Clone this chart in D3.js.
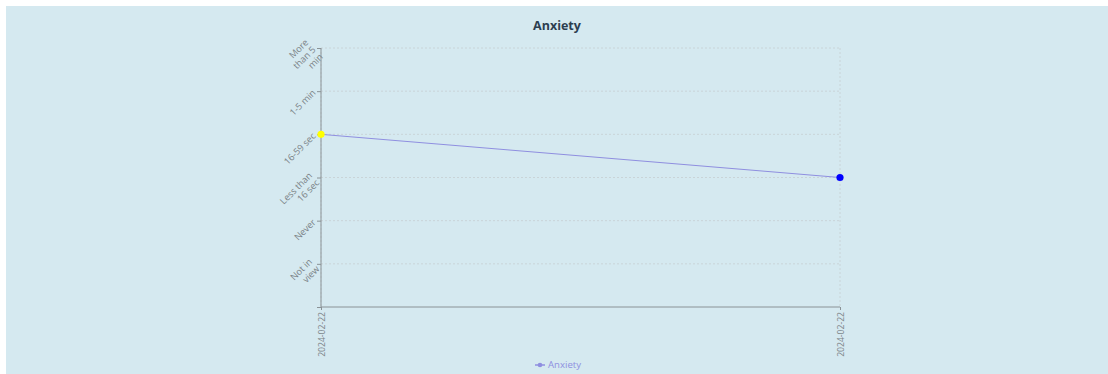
<!DOCTYPE html>
<html>
<head>
<meta charset="utf-8">
<script src="https://cdn.jsdelivr.net/npm/d3@7"></script>
<style>
  html, body { margin: 0; padding: 0; background: #ffffff; }
  body { font-family: "Open Sans", "Noto Sans", sans-serif; }
  svg { display: block; }
</style>
</head>
<body>
<svg id="chart" width="1108" height="374"></svg>
<script>
// Dates of the two check-ins (both on the same day)
const dates = ["2024-02-22", "2024-02-22"];
// Anxiety level per check-in, as an index into levelLabels
const anxiety = [4, 3];
// Marker colour for each check-in
const pointColors = ["#ffff00", "#0000ff"];
// Y-axis level labels, from 0 upwards
const levelLabels = ["", "Not in view", "Never", "Less than 16 sec", "16-59 sec", "1-5 min", "More than 5 min"];
const levelTicks = [0, 1, 2, 3, 4, 5, 6];
const seriesName = "Anxiety";
const chartTitle = "Anxiety";

const W = 1108, H = 374;
const svg = d3.select("#chart");

// panel background
svg.append("rect")
  .attr("x", 6).attr("y", 6)
  .attr("width", W - 6).attr("height", H - 6)
  .attr("fill", "#d5e9f0");

const plot = { left: 321, right: 840, top: 48, bottom: 307 };

const x = d3.scalePoint()
  .domain(d3.range(dates.length))
  .range([plot.left, plot.right]);

const y = d3.scaleLinear()
  .domain([0, 6])
  .range([plot.bottom, plot.top]);

// title
svg.append("text")
  .attr("x", 557).attr("y", 30)
  .attr("text-anchor", "middle")
  .attr("font-size", 12.5)
  .attr("font-weight", 700)
  .attr("fill", "#2c3e50")
  .text(chartTitle);

// grid
const grid = svg.append("g").attr("stroke", "#c9d4d8").attr("stroke-dasharray", "2 2").attr("fill", "none");
levelTicks.filter(t => t > 0).forEach(t => {
  grid.append("line")
    .attr("x1", plot.left).attr("x2", plot.right)
    .attr("y1", y(t)).attr("y2", y(t));
});
x.domain().forEach(i => {
  grid.append("line")
    .attr("x1", x(i)).attr("x2", x(i))
    .attr("y1", plot.top).attr("y2", plot.bottom);
});

const axisColor = "#8a9296";
const tickColor = "#7b8387";
const tickFont = 9.2;

// y axis
const yAxis = svg.append("g")
  .attr("transform", `translate(${plot.left},0)`)
  .call(d3.axisLeft(y).tickValues(levelTicks).tickSize(4).tickPadding(4).tickFormat(() => ""));
yAxis.select(".domain").attr("stroke", axisColor).attr("d", `M0,${plot.top}V${plot.bottom}`);
yAxis.selectAll(".tick line").attr("stroke", axisColor);
yAxis.selectAll(".tick text").remove();

// wrapped, rotated y tick labels
const labelX = plot.left - 7;
const maxWidth = 42;
const lineH = tickFont * 1.12;
levelTicks.forEach(t => {
  const label = levelLabels[t];
  if (!label) return;
  const g = svg.append("g")
    .attr("transform", `rotate(-45,${labelX},${y(t)})`);
  const txt = g.append("text")
    .attr("x", labelX).attr("y", y(t))
    .attr("text-anchor", "end")
    .attr("font-size", tickFont)
    .attr("fill", tickColor);
  // greedy word wrap
  const words = label.split(" ");
  const lines = [];
  let cur = "";
  const probe = txt.append("tspan");
  words.forEach(w => {
    const test = cur ? cur + " " + w : w;
    probe.text(test);
    if (cur && probe.node().getComputedTextLength() > maxWidth) {
      lines.push(cur);
      cur = w;
    } else {
      cur = test;
    }
  });
  lines.push(cur);
  probe.remove();
  const startDy = -(lines.length - 1) / 2 * lineH + tickFont * 0.355;
  lines.forEach((ln, k) => {
    txt.append("tspan")
      .attr("x", labelX)
      .attr("dy", k === 0 ? startDy : lineH)
      .text(ln);
  });
});

// x axis
const xAxis = svg.append("g")
  .attr("transform", `translate(0,${plot.bottom})`)
  .call(d3.axisBottom(x).tickSize(3).tickPadding(2).tickFormat(i => dates[i]));
xAxis.select(".domain").attr("stroke", axisColor).attr("d", `M${plot.left},0H${plot.right}`);
xAxis.selectAll(".tick line").attr("stroke", axisColor);
xAxis.selectAll(".tick text")
  .attr("font-size", 8.6)
  .attr("font-family", "Open Sans, sans-serif")
  .attr("fill", tickColor)
  .attr("text-anchor", "end")
  .attr("transform", "rotate(-90)")
  .attr("x", -5)
  .attr("y", 0)
  .attr("dy", "0.35em");

// series line
const lineColor = "#8f8fe0";
svg.append("path")
  .datum(anxiety)
  .attr("fill", "none")
  .attr("stroke", lineColor)
  .attr("stroke-width", 1)
  .attr("d", d3.line().x((d, i) => x(i)).y(d => y(d)));

// points
svg.selectAll("circle.pt")
  .data(anxiety)
  .join("circle")
  .attr("class", "pt")
  .attr("cx", (d, i) => x(i))
  .attr("cy", d => y(d))
  .attr("r", 3.6)
  .attr("fill", (d, i) => pointColors[i]);

// legend
const legend = svg.append("g").attr("transform", "translate(535,365)");
legend.append("line")
  .attr("x1", 0).attr("x2", 10).attr("y1", 0).attr("y2", 0)
  .attr("stroke", lineColor).attr("stroke-width", 1.5);
legend.append("circle")
  .attr("cx", 5).attr("cy", 0).attr("r", 2.3)
  .attr("fill", lineColor);
legend.append("text")
  .attr("x", 13).attr("y", 0).attr("dy", "0.35em")
  .attr("font-size", 9.6)
  .attr("fill", lineColor)
  .text(seriesName);
</script>
</body>
</html>
